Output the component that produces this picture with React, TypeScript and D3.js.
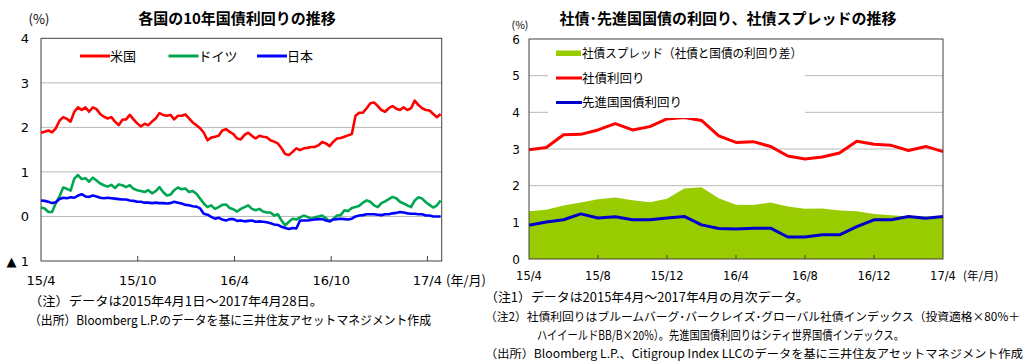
import * as d3 from 'd3';
import React from 'react';

// 各国の10年国債利回り: weekly readings from 2015/4/1
const usYield = [
  1.88, 1.90, 1.93, 1.89, 1.98, 2.15, 2.23, 2.19, 2.13, 2.35, 2.45, 2.39, 2.45, 2.35, 2.45, 2.41,
  2.30, 2.24, 2.20, 2.23, 2.13, 2.05, 2.17, 2.18, 2.28, 2.18, 2.09, 2.02, 2.08, 2.05, 2.13, 2.20,
  2.32, 2.28, 2.26, 2.28, 2.18, 2.26, 2.26, 2.29, 2.20, 2.11, 2.05, 1.98, 1.88, 1.71, 1.77, 1.79,
  1.81, 1.93, 1.96, 1.90, 1.85, 1.75, 1.73, 1.83, 1.88, 1.81, 1.75, 1.81, 1.79, 1.78, 1.71, 1.68,
  1.64, 1.53, 1.40, 1.38, 1.45, 1.53, 1.49, 1.53, 1.54, 1.56, 1.56, 1.60, 1.67, 1.64, 1.58, 1.68,
  1.75, 1.76, 1.79, 1.82, 1.85, 2.26, 2.33, 2.33, 2.43, 2.54, 2.56, 2.48, 2.39, 2.35, 2.43, 2.48,
  2.42, 2.39, 2.45, 2.39, 2.43, 2.60, 2.50, 2.43, 2.39, 2.38, 2.30, 2.23, 2.30,
];
const deYield = [
  0.20, 0.18, 0.10, 0.10, 0.30, 0.45, 0.65, 0.62, 0.58, 0.85, 0.93, 0.84, 0.86, 0.78, 0.87, 0.81,
  0.74, 0.70, 0.67, 0.71, 0.64, 0.72, 0.70, 0.66, 0.70, 0.62, 0.59, 0.57, 0.55, 0.59, 0.52, 0.57,
  0.66, 0.55, 0.47, 0.49, 0.59, 0.65, 0.61, 0.63, 0.55, 0.57, 0.51, 0.40, 0.29, 0.21, 0.25, 0.17,
  0.21, 0.26, 0.27, 0.19, 0.16, 0.11, 0.17, 0.21, 0.25, 0.17, 0.14, 0.17, 0.11, 0.09, 0.09, 0.02,
  0.05, -0.09, -0.20, -0.12, -0.05, -0.07, -0.02, 0.02, -0.01, -0.05, -0.02, 0.00, 0.02, -0.04, -0.11, -0.05,
  0.02, 0.03, 0.14, 0.12, 0.19, 0.21, 0.24, 0.31, 0.36, 0.33, 0.25, 0.21, 0.30, 0.34, 0.39, 0.44,
  0.41, 0.33, 0.29, 0.25, 0.21, 0.36, 0.43, 0.40, 0.32, 0.26, 0.20, 0.25, 0.36,
];
const jpYield = [
  0.36, 0.35, 0.33, 0.30, 0.32, 0.39, 0.42, 0.41, 0.43, 0.42, 0.47, 0.50, 0.45, 0.44, 0.47, 0.45,
  0.42, 0.41, 0.42, 0.41, 0.40, 0.39, 0.38, 0.38, 0.36, 0.35, 0.33, 0.33, 0.31, 0.31, 0.30, 0.31,
  0.30, 0.30, 0.29, 0.30, 0.33, 0.31, 0.29, 0.26, 0.25, 0.23, 0.22, 0.18, 0.06, 0.04, -0.01, -0.05,
  -0.03, -0.07, -0.09, -0.06, -0.06, -0.10, -0.09, -0.11, -0.10, -0.09, -0.12, -0.11, -0.12, -0.13, -0.15, -0.18,
  -0.19, -0.23, -0.26, -0.28, -0.26, -0.27, -0.09, -0.09, -0.09, -0.08, -0.07, -0.06, -0.06, -0.09, -0.11, -0.07,
  -0.06, -0.05, -0.06, -0.07, -0.05, 0.00, 0.02, 0.03, 0.05, 0.05, 0.05, 0.04, 0.03, 0.05, 0.05, 0.07,
  0.08, 0.10, 0.09, 0.07, 0.06, 0.06, 0.05, 0.05, 0.02, 0.02, 0.00, 0.00, 0.00,
];
const leftTicks = ['2015-04-01', '2015-10-01', '2016-04-01', '2016-10-01', '2017-04-01'];
const leftTickLabels = ['15/4', '15/10', '16/4', '16/10', '17/4'];
const leftSeries = [
  { name: '米国', color: '#ff0000', values: usYield },
  { name: 'ドイツ', color: '#00a651', values: deYield },
  { name: '日本', color: '#0000ff', values: jpYield },
];

// 社債・先進国国債: monthly 2015/4 - 2017/4
const months = [
  '15/4', '15/5', '15/6', '15/7', '15/8', '15/9', '15/10', '15/11', '15/12',
  '16/1', '16/2', '16/3', '16/4', '16/5', '16/6', '16/7', '16/8', '16/9', '16/10', '16/11', '16/12',
  '17/1', '17/2', '17/3', '17/4',
];
const corpYield = [2.98, 3.04, 3.39, 3.40, 3.52, 3.69, 3.52, 3.61, 3.82, 3.86, 3.78, 3.36, 3.18, 3.20, 3.07, 2.81, 2.73, 2.78, 2.89, 3.21, 3.13, 3.10, 2.96, 3.07, 2.93];
const govYield = [0.92, 1.01, 1.07, 1.23, 1.12, 1.15, 1.07, 1.07, 1.12, 1.16, 0.93, 0.83, 0.82, 0.84, 0.84, 0.60, 0.60, 0.66, 0.66, 0.88, 1.07, 1.07, 1.16, 1.11, 1.16];
const spread = [1.30, 1.34, 1.46, 1.54, 1.63, 1.68, 1.60, 1.55, 1.64, 1.92, 1.96, 1.66, 1.48, 1.47, 1.54, 1.43, 1.37, 1.38, 1.32, 1.30, 1.23, 1.19, 1.16, 1.16, 1.16];
const rightTickLabels = ['15/4', '15/8', '15/12', '16/4', '16/8', '16/12', '17/4'];

const jp = '"Noto Sans CJK JP", sans-serif';
const num = '"DejaVu Sans", sans-serif';
const gridColor = '#b8b8b8';
const frameColor = '#404040';

function Note({ x, y, len, size = 12.5, children }: { x: number; y: number; len: number; size?: number; children: string }) {
  return (
    <text x={x} y={y} fontFamily={jp} fontSize={size} textLength={len} lengthAdjust="spacingAndGlyphs">
      {children}
    </text>
  );
}

function LeftChart() {
  const x0 = 41, x1 = 441.7, yTop = 38.3, yBot = 261;
  const start = new Date(2015, 3, 1);
  const x = d3.scaleTime().domain([start, new Date(2017, 3, 28)]).range([x0, x1]);
  const y = d3.scaleLinear().domain([-1, 4]).range([yBot, yTop]);
  const date = (i: number) => d3.timeDay.offset(start, i * 7);
  const line = d3.line<number>().x((_, i) => x(date(i))).y(d => y(d));
  const yTicks = [-1, 0, 1, 2, 3, 4];
  return (
    <g>
      <text x={237} y={24} textAnchor="middle" fontFamily={jp} fontWeight="bold" fontSize={15}>各国の10年国債利回りの推移</text>
      <text x={39} y={24} textAnchor="middle" fontFamily={jp} fontSize={13}>(%)</text>
      {yTicks.slice(1, 5).map(t => (
        <line key={t} x1={x0} x2={x1} y1={y(t)} y2={y(t)} stroke={gridColor} strokeWidth={1} />
      ))}
      {yTicks.map(t => (
        <text key={t} x={29} y={y(t) + 5} textAnchor="end" fontFamily={num} fontSize={13}>
          {t < 0 ? `▲ ${-t}` : t}
        </text>
      ))}
      <rect x={x0} y={yTop} width={x1 - x0} height={yBot - yTop} fill="none" stroke={frameColor} strokeWidth={1} />
      {leftTicks.map((d, i) => {
        const px = x(d3.timeParse('%Y-%m-%d')(d) as Date);
        return (
          <g key={d}>
            {i > 0 && <line x1={px} x2={px} y1={yBot} y2={yBot - 5} stroke={frameColor} />}
            <text x={px} y={285} textAnchor="middle" fontFamily={num} fontSize={13}>{leftTickLabels[i]}</text>
          </g>
        );
      })}
      <text x={446} y={285} fontFamily={jp} fontSize={13}>(年/月)</text>
      {leftSeries.map(s => (
        <path key={s.name} d={line(s.values) ?? ''} fill="none" stroke={s.color} strokeWidth={2.6} strokeLinejoin="round" />
      ))}
      {leftSeries.map((s, i) => {
        const lx = 80 + i * 88.5;
        return (
          <g key={s.name}>
            <line x1={lx} x2={lx + 30} y1={56} y2={56} stroke={s.color} strokeWidth={3} />
            <text x={lx + 30} y={61} fontFamily={jp} fontSize={13}>{s.name}</text>
          </g>
        );
      })}
      <Note x={29} y={306} len={294}>（注）データは2015年4月1日～2017年4月28日。</Note>
      <Note x={29} y={325} len={402}>（出所）Bloomberg L.P.のデータを基に三井住友アセットマネジメント作成</Note>
    </g>
  );
}

function RightChart() {
  const x0 = 529, x1 = 943, yTop = 39, yBot = 259;
  const x = d3.scalePoint<string>().domain(months).range([x0, x1]);
  const y = d3.scaleLinear().domain([0, 6]).range([yBot, yTop]);
  const line = d3.line<number>().x((_, i) => x(months[i]) as number).y(d => y(d));
  const area = d3.area<number>().x((_, i) => x(months[i]) as number).y0(y(0)).y1(d => y(d));
  const yTicks = [0, 1, 2, 3, 4, 5, 6];
  return (
    <g>
      <text x={728} y={24} textAnchor="middle" fontFamily={jp} fontWeight="bold" fontSize={15}>社債･先進国国債の利回り、社債スプレッドの推移</text>
      <text x={520} y={29} textAnchor="middle" fontFamily={jp} fontSize={10.5}>(%)</text>
      {yTicks.slice(1, 6).map(t => (
        <line key={t} x1={x0} x2={x1} y1={y(t)} y2={y(t)} stroke={gridColor} strokeWidth={1} />
      ))}
      {yTicks.map(t => (
        <text key={t} x={520} y={y(t) + 4.5} textAnchor="end" fontFamily={num} fontSize={12}>{t}</text>
      ))}
      <path d={area(spread) ?? ''} fill="#99cc00" />
      <path d={line(corpYield) ?? ''} fill="none" stroke="#ff0000" strokeWidth={3} strokeLinejoin="round" />
      <path d={line(govYield) ?? ''} fill="none" stroke="#0000cc" strokeWidth={3} strokeLinejoin="round" />
      <rect x={x0} y={yTop} width={x1 - x0} height={yBot - yTop} fill="none" stroke={frameColor} strokeWidth={1} />
      {rightTickLabels.map((m, i) => {
        const px = x(m) as number;
        return (
          <g key={m}>
            {i > 0 && i < rightTickLabels.length - 1 && (
              <line x1={px} x2={px} y1={yBot} y2={yBot - 4} stroke={frameColor} />
            )}
            <text x={px} y={280} textAnchor="middle" fontFamily={num} fontSize={11.5}>{m}</text>
          </g>
        );
      })}
      <text x={963} y={280} fontFamily={jp} fontSize={11.5}>(年/月)</text>
      {/* legend */}
      <rect x={548} y={42} width={257} height={76} fill="#ffffff" />
      <rect x={556} y={50.5} width={25} height={5.5} fill="#99cc00" />
      <text x={582} y={58} fontFamily={jp} fontSize={12.5} textLength={220} lengthAdjust="spacingAndGlyphs">社債スプレッド（社債と国債の利回り差）</text>
      <line x1={556} x2={582} y1={78} y2={78} stroke="#ff0000" strokeWidth={3} />
      <text x={582} y={82.5} fontFamily={jp} fontSize={12.5}>社債利回り</text>
      <line x1={556} x2={582} y1={102.5} y2={102.5} stroke="#0000cc" strokeWidth={3} />
      <text x={582} y={107} fontFamily={jp} fontSize={12.5}>先進国国債利回り</text>
      <Note x={485} y={302} len={324}>（注1）データは2015年4月～2017年4月の月次データ。</Note>
      <Note x={485} y={321} len={535} size={11.8}>（注2）社債利回りはブルームバーグ･バークレイズ･グローバル社債インデックス（投資適格×80%＋</Note>
      <Note x={537} y={340} len={367}>ハイイールドBB/B×20%）。先進国国債利回りはシティ世界国債インデックス。</Note>
      <Note x={485} y={358} len={538} size={11.8}>（出所）Bloomberg L.P.、Citigroup Index LLCのデータを基に三井住友アセットマネジメント作成</Note>
    </g>
  );
}

export default function App() {
  return (
    <svg width={1030} height={362} viewBox="0 0 1030 362"
      style={{ position: 'absolute', left: 0, top: 0, background: '#ffffff' }}>
      <LeftChart />
      <RightChart />
    </svg>
  );
}
